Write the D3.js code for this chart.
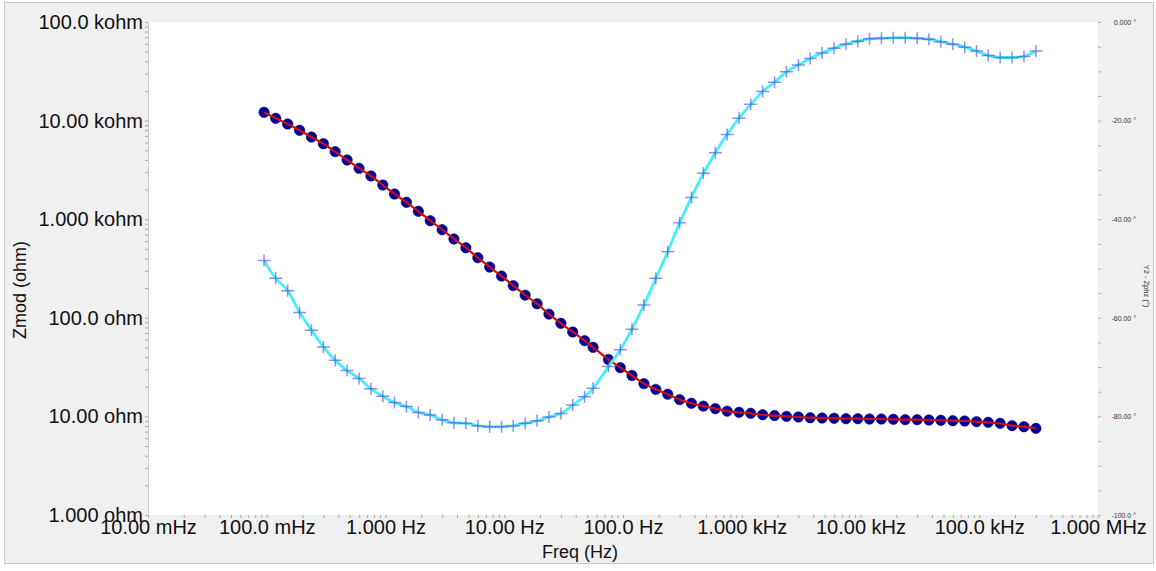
<!DOCTYPE html>
<html>
<head>
<meta charset="utf-8">
<script src="https://cdn.jsdelivr.net/npm/d3@7"></script>
<style>
  body { margin: 0; background: #fff; }
  svg { display: block; font-family: "Liberation Sans", Arial, sans-serif; }
</style>
</head>
<body>
<svg width="1156" height="571"></svg>
<script>
var freq = [0.0949, 0.119, 0.150, 0.189, 0.238, 0.300, 0.377, 0.475, 0.599, 0.754,
  0.949, 1.19, 1.50, 1.89, 2.38, 3.00, 3.77, 4.75, 5.99, 7.54,
  9.49, 11.9, 15.0, 18.9, 23.8, 30.0, 37.7, 47.5, 56.0, 75.4,
  94.9, 119, 150, 189, 238, 300, 377, 475, 599, 754,
  949, 1190, 1500, 1890, 2380, 3000, 3770, 4750, 5990, 7540,
  9490, 11900, 15000, 18900, 23800, 30000, 37700, 47500, 59900, 75400,
  94900, 119000, 150000, 189000, 238000, 300000];

var zmod = [12140, 10550, 9240, 7980, 6820, 5830, 4840, 3985, 3281, 2742,
  2222, 1802, 1484, 1203, 966, 783, 630, 514, 407, 327,
  265, 212, 170, 139, 109, 88.0, 71.8, 58.6, 50.2, 37.8,
  31.2, 26.0, 21.5, 18.8, 16.8, 14.8, 13.6, 12.7, 12.0, 11.3,
  11.0, 10.75, 10.4, 10.2, 10.0, 9.86, 9.70, 9.63, 9.57, 9.48,
  9.48, 9.41, 9.41, 9.35, 9.26, 9.26, 9.19, 9.13, 9.04, 8.98,
  8.84, 8.71, 8.51, 8.05, 7.86, 7.57];

var zphz = [-48.4, -52.0, -54.5, -58.9, -62.5, -65.9, -68.6, -70.7, -72.3, -74.4,
  -75.9, -77.2, -78.0, -79.2, -79.7, -80.7, -81.3, -81.4, -81.9, -82.1,
  -82.1, -81.9, -81.4, -80.9, -80.1, -79.4, -77.7, -76.0, -74.3, -69.9,
  -66.5, -62.3, -57.4, -52.0, -46.6, -40.7, -35.6, -30.7, -26.5, -22.8,
  -19.5, -16.7, -14.1, -12.2, -10.1, -8.7, -7.4, -6.3, -5.3, -4.5,
  -3.9, -3.4, -3.3, -3.2, -3.2, -3.3, -3.5, -4.0, -4.5, -5.1,
  -5.9, -6.8, -7.2, -7.2, -7.0, -5.9];

var xTickLabels = ["10.00 mHz", "100.0 mHz", "1.000 Hz", "10.00 Hz", "100.0 Hz",
  "1.000 kHz", "10.00 kHz", "100.0 kHz", "1.000 MHz"];
var yTickLabels = ["1.000 ohm", "10.00 ohm", "100.0 ohm", "1.000 kohm", "10.00 kohm", "100.0 kohm"];
var y2TickLabels = ["-100.0 °", "-80.00 °", "-60.00 °", "-40.00 °", "-20.00 °", "0.000 °"];

var svg = d3.select("svg"),
    margin = { top: 22, right: 58, bottom: 56, left: 148 },
    width = +svg.attr("width") - margin.left - margin.right,
    height = +svg.attr("height") - margin.top - margin.bottom;

var data = freq.map(function (f, i) { return { f: f, z: zmod[i], p: zphz[i] }; });

var x = d3.scaleLog().domain([0.01, 1e6]).range([0, width]),
    y = d3.scaleLog().domain([1, 1e5]).range([height, 0]),
    y2 = d3.scaleLinear().domain([-100, 0]).range([height, 0]);

function decade(v) {
  var l = Math.log10(v);
  return Math.abs(l - Math.round(l)) < 1e-6 ? Math.round(l) : null;
}

svg.append("rect")
    .attr("x", 4.5).attr("y", 2.5)
    .attr("width", 1149).attr("height", 561)
    .attr("fill", "#f0f0f0")
    .attr("stroke", "#c8c8c8");

var g = svg.append("g")
    .attr("transform", "translate(" + margin.left + "," + margin.top + ")");

g.append("rect")
    .attr("width", width)
    .attr("height", height)
    .attr("fill", "#fff");

var xAxis = d3.axisBottom(x)
    .tickValues(x.ticks())
    .tickSize(3).tickSizeOuter(0).tickPadding(2)
    .tickFormat(function (d) { var k = decade(d); return k === null ? "" : xTickLabels[k + 2]; });

var yAxis = d3.axisLeft(y)
    .tickValues(y.ticks())
    .tickSize(3).tickSizeOuter(0).tickPadding(2)
    .tickFormat(function (d) { var k = decade(d); return k === null ? "" : yTickLabels[k]; });

var y2Axis = d3.axisRight(y2)
    .tickValues(d3.range(-100, 1, 5))
    .tickSize(3).tickSizeOuter(0).tickPadding(35)
    .tickFormat(function (d) { return d % 20 === 0 ? y2TickLabels[(d + 100) / 20] : ""; });

var gx = g.append("g")
    .attr("transform", "translate(0," + height + ")")
    .call(xAxis);
gx.select(".domain").remove();
gx.selectAll("text").attr("font-size", 20).attr("fill", "#111").attr("font-family", null);

var gy = g.append("g").call(yAxis);
gy.select(".domain").attr("stroke", "#c8c8c8");
gy.selectAll("text").attr("font-size", 20).attr("fill", "#111").attr("font-family", null);

var gy2 = g.append("g")
    .attr("transform", "translate(" + width + ",0)")
    .call(y2Axis);
gy2.select(".domain").remove();
gy2.selectAll("text").attr("font-size", 7).attr("fill", "#333")
    .attr("text-anchor", "end").attr("font-family", null);

g.selectAll(".tick line").attr("stroke", "#a8a8a8");

var zLine = d3.line()
    .curve(d3.curveCatmullRom)
    .x(function (d) { return x(d.f); })
    .y(function (d) { return y(d.z); });

var pLine = d3.line()
    .curve(d3.curveCatmullRom)
    .x(function (d) { return x(d.f); })
    .y(function (d) { return y2(d.p); });

g.selectAll(".zpt")
    .data(data)
    .enter().append("circle")
    .attr("class", "zpt")
    .attr("cx", function (d) { return x(d.f); })
    .attr("cy", function (d) { return y(d.z); })
    .attr("r", 5.2)
    .attr("fill", "#00009c")
    .attr("stroke", "#000070")
    .attr("stroke-width", 0.6);

g.append("path")
    .datum(data)
    .attr("fill", "none")
    .attr("stroke", "#cc1010")
    .attr("stroke-width", 2.2)
    .attr("d", zLine);

g.append("path")
    .datum(data)
    .attr("fill", "none")
    .attr("stroke", "#44f0fa")
    .attr("stroke-width", 2.8)
    .attr("d", pLine);

g.selectAll(".ppt")
    .data(data)
    .enter().append("path")
    .attr("class", "ppt")
    .attr("transform", function (d) { return "translate(" + x(d.f) + "," + y2(d.p) + ")"; })
    .attr("d", "M-6.5,0H6.5M0,-6V6")
    .attr("stroke", "#4646dc")
    .attr("stroke-opacity", 0.6)
    .attr("stroke-width", 1.5)
    .attr("fill", "none");

svg.append("text")
    .attr("transform", "translate(20,290) rotate(-90)")
    .attr("text-anchor", "middle")
    .attr("dominant-baseline", "central")
    .attr("font-size", 18)
    .attr("fill", "#111")
    .text("Zmod (ohm)");

svg.append("text")
    .attr("x", 580).attr("y", 558)
    .attr("text-anchor", "middle")
    .attr("font-size", 18)
    .attr("fill", "#111")
    .text("Freq (Hz)");

svg.append("text")
    .attr("transform", "translate(1146,286) rotate(90)")
    .attr("text-anchor", "middle")
    .attr("dominant-baseline", "central")
    .attr("font-size", 7.5)
    .attr("fill", "#333")
    .text("Y2 - Zphz (°)");
</script>
</body>
</html>
